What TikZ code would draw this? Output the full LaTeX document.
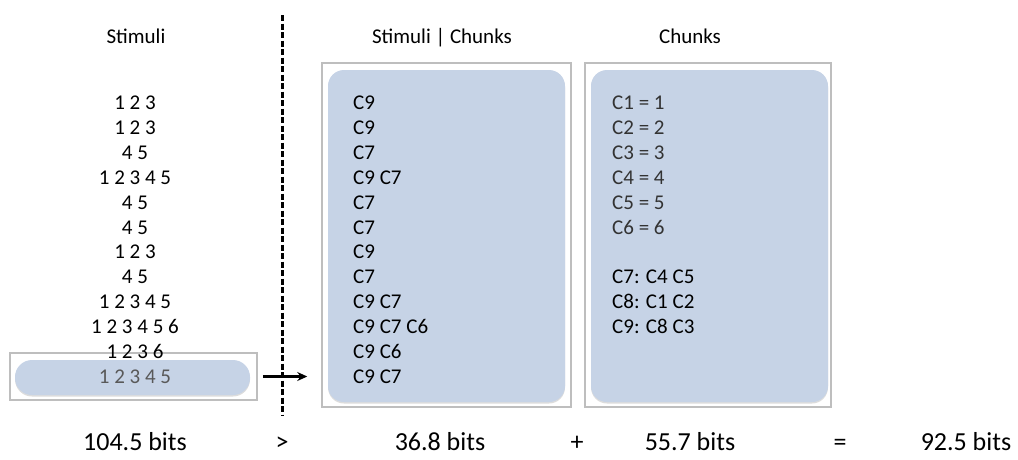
\documentclass[tikz,border=0pt]{standalone}
\usepackage{fontspec}
\setmainfont{Carlito}
\usetikzlibrary{positioning,shadows,arrows.meta}
\definecolor{chunkblue}{RGB}{198,211,230}
\definecolor{framegray}{RGB}{190,190,190}

\tikzset{
  frame/.style={draw=framegray, line width=1.5pt, inner sep=0pt},
  panel/.style={fill=chunkblue, rounded corners=16pt, inner sep=0pt,
    drop shadow={shadow xshift=0pt, shadow yshift=-1.5pt, opacity=.3, fill=black!45}},
  row/.style={font=\fontsize{21}{24}\selectfont, inner sep=0pt},
  heading/.style={font=\fontsize{21}{24}\selectfont, inner sep=0pt, anchor=base},
  total/.style={font=\fontsize{26}{30}\selectfont, inner sep=0pt, anchor=base},
  divider/.style={line width=3pt, dash pattern=on 6pt off 2.5pt},
}

\begin{document}
\begin{tikzpicture}[x=1pt,y=-1pt]
  \useasboundingbox (0,0) rectangle (1018,459);

  % Column headings
  \node[heading] (hstim) at (136,43) {Stimuli};
  \node[heading] (hgiven) at (442,43) {Stimuli | Chunks};
  \node[heading] (hchunk) at (690,43) {Chunks};

  % Frames and panels
  \node[frame, minimum width=247pt, minimum height=47pt] (hlframe) at (133.5,376.5) {};
  \node[panel, rounded corners=17pt, minimum width=235pt, minimum height=35pt] (hlpanel) at (132.5,377.5) {};
  \node[frame, minimum width=249pt, minimum height=344pt] (midframe) at (446.5,235) {};
  \node[panel, minimum width=237pt, minimum height=332pt] (midpanel) at (446.5,236) {};
  \node[frame, minimum width=246pt, minimum height=344pt] (chframe) at (708,235) {};
  \node[panel, minimum width=237pt, minimum height=332pt] (chpanel) at (709.5,236) {};

  % Stimuli
  \foreach \txt [count=\i] in {1 2 3, 1 2 3, 4 5, 1 2 3 4 5, 4 5, 4 5, 1 2 3, 4 5,
      1 2 3 4 5, 1 2 3 4 5 6, 1 2 3 6}
    \node[row, anchor=base] (s\i) at (135,{109.5+24.9*(\i-1)}) {\txt};
  \node[row, anchor=base, text=black!65] (s12) at (135,{109.5+24.9*11}) {1 2 3 4 5};

  % Stimuli given chunks
  \foreach \txt [count=\i] in {C9, C9, C7, C9 C7, C7, C7, C9, C7, C9 C7, C9 C7 C6, C9 C6, C9 C7}
    \node[row, anchor=base west] (g\i) at (353,{109.5+24.9*(\i-1)}) {\txt};

  % Chunks
  \foreach \k in {1,...,6}
    \node[row, anchor=base west, text=black!80] (c\k) at (612,{109.5+24.9*(\k-1)}) {C\k\ = \k};
  \node[row, anchor=base west] (c7) at (612,{109.5+24.9*7}) {C7: C4 C5};
  \node[row, anchor=base west] (c8) at (612,{109.5+24.9*8}) {C8: C1 C2};
  \node[row, anchor=base west] (c9) at (612,{109.5+24.9*9}) {C9: C8 C3};

  % Divider and arrow
  \coordinate (dtop) at (282,15);
  \coordinate (dbot) at (282,415);
  \draw[divider] (dtop) -- (dbot);
  \draw[line width=2.5pt, -{Stealth[length=10pt,width=9pt]}, shorten <=5pt, shorten >=14pt]
    (hlframe.east) -- (midframe.west |- hlframe.east);

  % Totals
  \node[total] (tstim) at (135,450) {104.5 bits};
  \node[total] (tgt) at (282,450) {>};
  \node[total] (tgiven) at (440,450) {36.8 bits};
  \node[total] (tplus) at (577,450) {+};
  \node[total] (tchunk) at (690,450) {55.7 bits};
  \node[total] (teq) at (840,450) {=};
  \node[total] (tsum) at (966,450) {92.5 bits};
\end{tikzpicture}
\end{document}
